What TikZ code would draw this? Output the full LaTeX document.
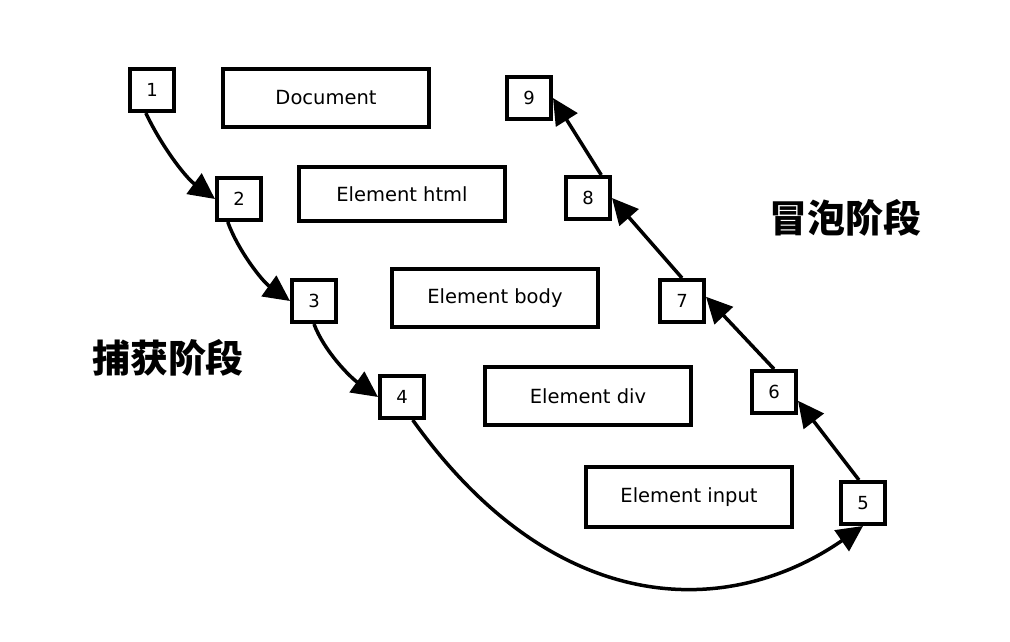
\documentclass[tikz,border=0pt]{standalone}
\usepackage{fontspec}
\setmainfont{DejaVu Sans}
\newfontfamily\cjk{Noto Sans CJK SC}
\usetikzlibrary{arrows.meta}
\tikzset{
  numbox/.style={draw, line width=4pt, minimum width=44pt, minimum height=42pt, inner sep=0pt, font=\fontsize{18}{20}\selectfont},
  elbox/.style={draw, line width=4pt, minimum width=206pt, minimum height=58pt, inner sep=0pt, font=\fontsize{19.5}{22}\selectfont},
  phase/.style={font=\cjk\bfseries\fontsize{38}{42}\selectfont, inner sep=0pt},
  flow/.style={line width=3.5pt, -{Triangle[length=26pt,width=25pt]}}
}
\begin{document}
\begin{tikzpicture}[x=1pt,y=-1pt]
\useasboundingbox[fill=white] (0,0) rectangle (1010,642);
\node[numbox] (n1) at (152,90) {1};
\node[elbox] (doc) at (326,98) {Document};
\node[numbox] (n9) at (529,98) {9};
\node[numbox] (n2) at (239,199) {2};
\node[elbox, minimum height=54pt] (html) at (402,194) {Element html};
\node[numbox] (n8) at (588,198) {8};
\node[numbox] (n3) at (314,301) {3};
\node[elbox] (body) at (495,298) {Element body};
\node[numbox] (n7) at (682,301) {7};
\node[numbox] (n4) at (402,397) {4};
\node[elbox] (div) at (588,396) {Element div};
\node[numbox] (n6) at (774,392) {6};
\node[elbox, minimum height=60pt] (input) at (689,497) {Element input};
\node[numbox] (n5) at (863,503) {5};
\node[phase] (bubble) at (845,218) {冒泡阶段};
\node[phase] (capture) at (168,358) {捕获阶段};

\draw[flow] (n1.-105) .. controls +(15,32) and +(-30,-22) .. (n2.west);
\draw[flow] (n2.-116) .. controls +(10,28) and +(-28,-20) .. (n3.west);
\draw[flow] (n3.south) .. controls +(10,27) and +(-28,-20) .. (n4.west);
\draw[flow] (n4.-65) .. controls +(143,200) and +(-134,93) .. (n5.south);
\draw[flow] (n5.100) -- (n6.-20);
\draw[flow] (n6.north) -- (n7.10);
\draw[flow] (n7.north) -- (n8.east);
\draw[flow] (n8.60) -- (n9.east);
\end{tikzpicture}
\end{document}
